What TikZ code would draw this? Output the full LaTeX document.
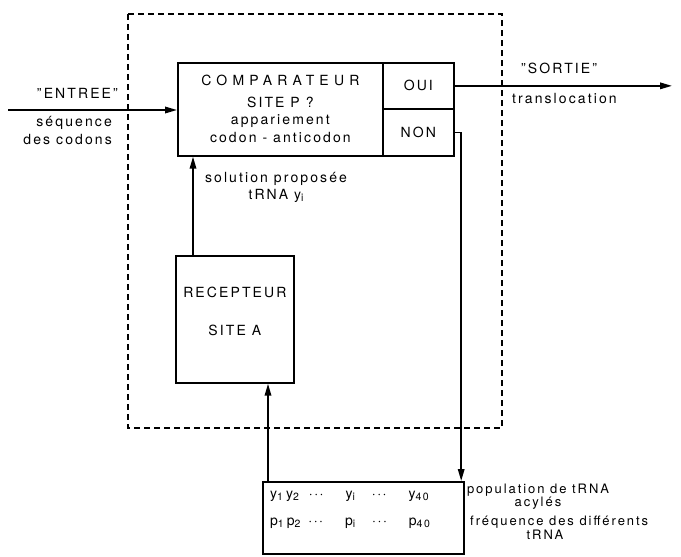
\documentclass[tikz,border=0pt]{standalone}
\usepackage{fontspec}
\setmainfont{TeX Gyre Heros}[LetterSpace=15]
\usetikzlibrary{arrows.meta, positioning, calc}
\newcommand{\ellip}{\textperiodcentered\kern1.5pt\textperiodcentered\kern1.5pt\textperiodcentered}
\newcommand{\lowidx}[1]{\raisebox{-2.5pt}{\fontsize{10.5}{10}\selectfont #1}}
\tikzset{
  cellbox/.style={
    rectangle, draw, line width=1.7pt,
    anchor=north west, inner sep=0pt,
    align=center, font=\fontsize{14}{18}\selectfont
  },
  lbl/.style={font=\fontsize{14}{18}\selectfont, inner sep=0pt},
  smalllbl/.style={font=\fontsize{13}{12}\selectfont, inner sep=0pt, align=center},
  myarrow/.style={-{Triangle[length=12pt,width=6.5pt]}, line width=1.7pt},
  dashbox/.style={line width=1.7pt, dash pattern=on 6pt off 4pt}
}

\begin{document}
\begin{tikzpicture}[x=1pt, y=-1pt]
\useasboundingbox (0,0) rectangle (681,557);

%% CELL (dashed frame)
\draw[dashbox] (128,14) rectangle (502,428);

%% BOXES
\node[cellbox, minimum width=205pt, minimum height=93pt] (comparator) at (177,62) {
  {\addfontfeature{LetterSpace=37}COMPARATEUR}\\[4pt]
  SITE P ?\\[-1pt]
  appariement\\[0pt]
  codon - anticodon
};
\node[cellbox, minimum width=71pt, minimum height=46pt] (oui) at (382,62) {OUI};
\node[cellbox, minimum width=71pt, minimum height=47pt] (non) at (382,108) {NON};
\node[cellbox, minimum width=118pt, minimum height=127pt] (receptor) at (175,255) {
  RECEPTEUR\\[20pt]
  SITE A\\[-2pt]
};
\node[cellbox, minimum width=201pt, minimum height=72pt] (population) at (262,481) {};

%% LABELS
\node[lbl, anchor=west] (yrow) at (270,496) {
  y\lowidx{1}\hspace{3pt}y\lowidx{2}\hspace{10pt}\ellip\hspace{22pt}y\lowidx{i}\hspace{17pt}\ellip\hspace{22pt}y\lowidx{40}
};
\node[lbl, anchor=west] (prow) at (270,523) {
  p\lowidx{1}\hspace{3pt}p\lowidx{2}\hspace{8pt}\ellip\hspace{22pt}p\lowidx{i}\hspace{17pt}\ellip\hspace{22pt}p\lowidx{40}
};
\node[lbl, anchor=east] (entree) at (118,93) {"ENTREE"};
\node[lbl, anchor=east, align=right] (codons) at (112,131) {séquence\\des codons};
\node[lbl, anchor=west] (sortie) at (521,68) {"SORTIE"};
\node[lbl, anchor=west] (transl) at (512,98) {translocation};
\node[lbl, align=center, font=\fontsize{14}{17}\selectfont] (solution) at (276,187) {
  solution proposée\\tRNA y\lowidx{i}
};
\node[smalllbl] (poplbl) at (538,497) {population de tRNA\\acylés};
\node[smalllbl, anchor=west] (freqlbl) at (470,522) {fréquence des différents};
\node[smalllbl] (freqtrna) at (545,535) {tRNA};

%% ARROWS
\coordinate (input) at (8,110);
\coordinate (output) at (672,83);
\draw[myarrow] (input) -- (input -| comparator.west);
\draw[myarrow] (oui.east) -- (oui.east -| output);

% NON -> population
\draw[myarrow] (non.east) -- ++(6.5,0) coordinate (nonbend) -- (nonbend |- population.north);

% population -> receptor
\coordinate (popout) at ([xshift=6pt]population.north west);
\draw[myarrow] (popout) -- (popout |- receptor.south);

% receptor -> comparator
\coordinate (recout) at ([xshift=18pt]receptor.north west);
\draw[myarrow] (recout) -- (recout |- comparator.south);

\end{tikzpicture}
\end{document}
